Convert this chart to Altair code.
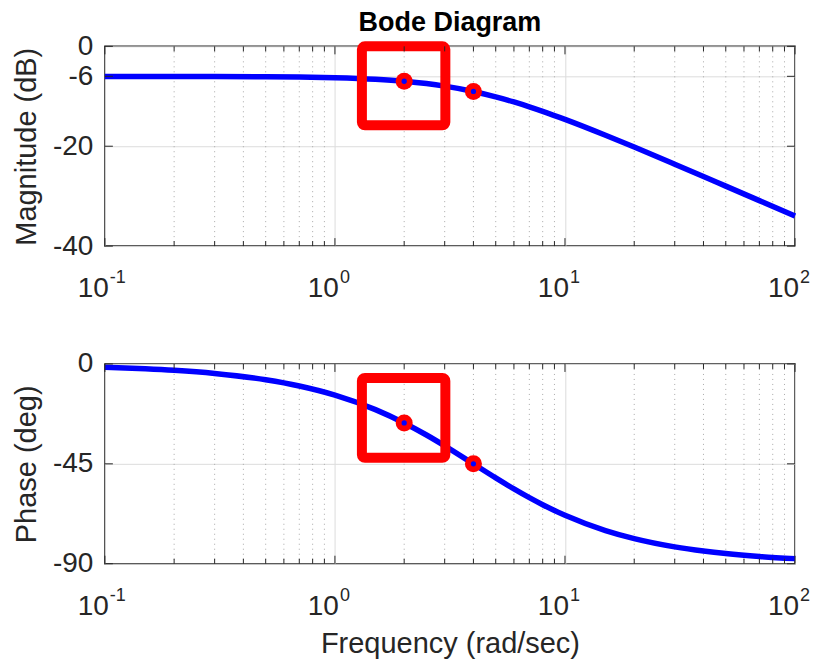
import altair as alt
import pandas as pd

# ---- data ----
freq = [0.1, 0.15, 0.2, 0.3, 0.5, 0.7, 1.0, 1.5, 2.0, 2.5, 3.0, 4.0, 5.0, 6.0,
        7.0, 8.0, 10.0, 15.0, 20.0, 30.0, 40.0, 50.0, 70.0, 100.0]
mag_db = [-6.02, -6.03, -6.03, -6.04, -6.09, -6.15, -6.28, -6.59, -6.99, -7.45,
          -7.96, -9.03, -10.11, -11.14, -12.11, -13.01, -14.62, -17.80, -20.17,
          -23.60, -26.06, -27.99, -30.89, -33.99]
phase_deg = [-1.43, -2.15, -2.86, -4.29, -7.13, -9.93, -14.04, -20.56, -26.57,
             -32.01, -36.87, -45.0, -51.34, -56.31, -60.26, -63.43, -68.20,
             -75.07, -78.69, -82.41, -84.29, -85.43, -86.73, -87.71]

marker_freq = [2.0, 4.0]
marker_mag = [-6.99, -9.03]
marker_phase = [-26.57, -45.0]

box_freq = [1.31, 3.02]
mag_box = [0.0, -15.8]
phase_box = [-6.3, -42.3]

mag_ticks = [0, -6, -20, -40]
phase_ticks = [0, -45, -90]
decades = [0.1, 1, 10, 100]
exponents = ["-1", "0", "1", "2"]
minor = [m * d for d in (0.1, 1, 10) for m in range(2, 10)]

# ---- styling ----
W, H = 691, 200
FONT = "Liberation Sans"
TXT = "#262626"
BLUE = "#0000ff"
RED = "#ff0000"

xs = alt.Scale(type="log", domain=[0.1, 100], nice=False)


def panel(vals, ticks, ydom, ytitle, mk_vals, box_vals, xtitle):
    ys = alt.Scale(domain=ydom, nice=False, zero=False)
    xaxis_kw = dict(labels=False, ticks=False, domain=False, grid=True,
                    values=decades, gridColor="#dcdcdc", gridWidth=1)
    if xtitle:
        xaxis = alt.Axis(title=xtitle, titleFontSize=29, titleFontWeight="normal",
                         titleFont=FONT, titleColor=TXT, titlePadding=66, **xaxis_kw)
    else:
        xaxis = alt.Axis(title=None, **xaxis_kw)
    yaxis = alt.Axis(values=ticks, title=ytitle, labelFontSize=28, labelFont=FONT,
                     labelColor=TXT, labelPadding=12, labelOverlap=False,
                     labelExpr="datum.value + ''",
                     ticks=False, domain=False, grid=True, gridColor="#dcdcdc",
                     gridWidth=1, titleFontSize=29, titleFont=FONT,
                     titleFontWeight="normal", titleColor=TXT, titlePadding=11)
    X = alt.X("f:Q", scale=xs, axis=xaxis)
    Y = alt.Y("v:Q", scale=ys, axis=yaxis)

    curve = pd.DataFrame({"f": freq, "v": vals})
    mk = pd.DataFrame({"f": marker_freq, "v": mk_vals})
    box = pd.DataFrame({"f": [box_freq[0]], "f2": [box_freq[1]],
                        "v": [box_vals[0]], "v2": [box_vals[1]]})
    minor_df = pd.DataFrame({"f": minor})
    major_df = pd.DataFrame({"f": decades})
    yt_df = pd.DataFrame({"v": ticks})
    lab_df = pd.DataFrame({"f": decades, "e": exponents, "b": ["10"] * 4})

    minor_grid = alt.Chart(minor_df).mark_rule(
        color="#a8a8a8", strokeWidth=1, strokeDash=[1, 4]).encode(x=X)
    line = alt.Chart(curve).mark_line(
        color=BLUE, strokeWidth=5.5, interpolate="monotone").encode(x=X, y=Y)
    rect = alt.Chart(box).mark_rect(
        filled=False, stroke=RED, strokeWidth=10, strokeJoin="round",
        cornerRadius=3).encode(x=X, x2="f2:Q", y=Y, y2="v2:Q")
    dots = alt.Chart(mk).mark_circle(color=RED, size=290, opacity=1).encode(x=X, y=Y)
    cores = alt.Chart(mk).mark_circle(color=BLUE, size=28, opacity=1).encode(x=X, y=Y)

    tk = dict(color=TXT, strokeWidth=1)
    minor_top = alt.Chart(minor_df).mark_rule(**tk).encode(
        x=X, y=alt.value(0), y2=alt.value(5))
    minor_bot = alt.Chart(minor_df).mark_rule(**tk).encode(
        x=X, y=alt.value(H - 5), y2=alt.value(H))
    major_top = alt.Chart(major_df).mark_rule(**tk).encode(
        x=X, y=alt.value(0), y2=alt.value(8))
    major_bot = alt.Chart(major_df).mark_rule(**tk).encode(
        x=X, y=alt.value(H - 8), y2=alt.value(H))
    ytick_l = alt.Chart(yt_df).mark_rule(**tk).encode(
        y=Y, x=alt.value(0), x2=alt.value(8))
    ytick_r = alt.Chart(yt_df).mark_rule(**tk).encode(
        y=Y, x=alt.value(W - 8), x2=alt.value(W))

    base_lab = alt.Chart(lab_df).mark_text(
        align="right", baseline="alphabetic", fontSize=28, font=FONT,
        color=TXT, dx=4).encode(x=X, y=alt.value(H + 51), text="b:N")
    exp_lab = alt.Chart(lab_df).mark_text(
        align="left", baseline="alphabetic", fontSize=18, font=FONT,
        color=TXT, dx=5).encode(x=X, y=alt.value(H + 37), text="e:N")

    return alt.layer(minor_grid, line, rect, dots, cores, minor_top, minor_bot,
                     major_top, major_bot, ytick_l, ytick_r, base_lab, exp_lab
                     ).properties(width=W, height=H)


top = panel(mag_db, mag_ticks, [-40, 0], "Magnitude (dB)", marker_mag, mag_box, None
            ).properties(title=alt.TitleParams(
                "Bode Diagram", fontSize=27, fontWeight="bold", font=FONT,
                color="black", anchor="middle", frame="group", offset=-5))
bottom = panel(phase_deg, phase_ticks, [-90, 0], "Phase (deg)", marker_phase,
               phase_box, "Frequency (rad/sec)")

chart = alt.vconcat(top, bottom, spacing=118, bounds="flush").properties(
    padding={"left": 3, "top": 0, "right": 0, "bottom": 0}
).configure_view(stroke=TXT, strokeWidth=1.5)

chart.save("out.html", embed_options={"renderer": "svg", "actions": False})
